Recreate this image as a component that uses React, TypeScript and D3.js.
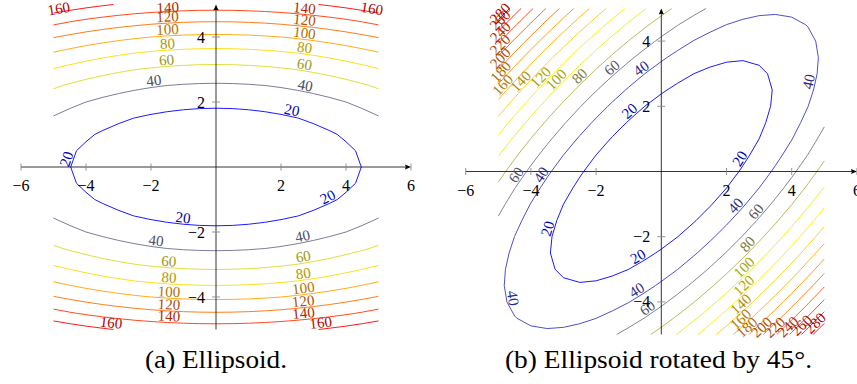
import React from "react";
import * as d3 from "d3";

// ---------- data ----------
const DOMAIN = [-5, 5];
const GRID_SAMPLES = 21;
const AXIS_WEIGHTS = [1, 6]; // f = w0*u^2 + w1*v^2
const ROTATION_A = 0;
const ROTATION_B = 45;
const LEVELS_A = [20, 40, 60, 80, 100, 120, 140, 160];
const LEVELS_B = [20, 40, 60, 80, 100, 120, 140, 160, 180, 200, 220, 240, 260, 280];
const X_TICKS = [-6, -4, -2, 2, 4, 6];
const Y_TICKS = [-4, -2, 2, 4];
const X_RANGE = [-6, 6];
const Y_RANGE = [-5, 5];
const CAPTION_A = "(a) Ellipsoid.";
const CAPTION_B = "(b) Ellipsoid rotated by 45°.";

// contour label anchors: [level, x, y]
const LABELS_A: number[][] = [
  [20, -4.59, 0.24], [20, 2.33, 1.72], [20, 3.46, -0.96], [20, -1.02, -1.61],
  [40, -1.91, 2.62], [40, 2.74, 2.47], [40, -1.85, -2.3], [40, 2.67, -2.16],
  [60, -1.52, 3.26], [60, 2.72, 3.14], [60, -1.45, -2.91], [60, 2.69, -2.79],
  [80, -1.49, 3.77], [80, 2.72, 3.63], [80, -1.45, -3.43], [80, 2.69, -3.3],
  [100, -1.49, 4.2], [100, 2.72, 4.11], [100, -1.45, -3.87], [100, 2.69, -3.73],
  [120, -1.49, 4.6], [120, 2.72, 4.5], [120, -1.45, -4.27], [120, 2.69, -4.17],
  [140, -1.48, 4.95], [140, 2.72, 4.88], [140, -1.45, -4.6], [140, 2.69, -4.5],
  [160, -4.83, 4.92], [160, 4.79, 4.93], [160, -3.23, -4.83], [160, 3.22, -4.81],
];
const LABELS_B: number[][] = [
  [20, -1.01, 1.89], [20, 2.44, 0.38], [20, -3.52, -1.74], [20, -0.71, -2.61],
  [40, -0.62, 3.17], [40, 4.56, 2.75], [40, -3.67, -0.11], [40, 2.31, -1.08], [40, -4.59, -3.89], [40, -0.76, -3.63],
  [60, -1.5, 3.17], [60, -4.44, -0.11], [60, 2.9, -1.23], [60, -0.45, -4.15],
  [80, -2.49, 2.91], [80, 2.67, -2.25],
  [100, -3.2, 2.8], [100, 2.52, -2.92],
  [120, -3.72, 2.91], [120, 2.47, -3.43],
  [140, -4.36, 2.81], [140, 2.41, -4.04],
  [160, -4.8, 2.6], [160, 2.36, -4.45],
  [180, -4.75, 2.9], [180, 2.6, -4.75],
  [200, -4.75, 3.3], [200, 3.05, -4.75],
  [220, -4.75, 3.7], [220, 3.45, -4.75],
  [240, -4.75, 4.1], [240, 3.87, -4.75],
  [260, -4.75, 4.45], [260, 4.3, -4.72],
  [280, -4.75, 4.8], [280, 4.72, -4.65],
];

// ---------- helpers ----------
const FONT = "'Liberation Serif', 'Times New Roman', serif";
const hot = d3
  .scaleLinear<string>()
  .domain([0, 1 / 3, 2 / 3, 1])
  .range(["#0000ff", "#ffff00", "#ff8000", "#ff0000"])
  .interpolate(d3.interpolateRgb);

const fmt = (v: number) => (v < 0 ? "\u2212" + Math.abs(v) : String(v));

type Line = { closed: boolean; pts: number[][] };

function contourLines(levels: number[], rotDeg: number) {
  const n = GRID_SAMPLES;
  const step = (DOMAIN[1] - DOMAIN[0]) / (n - 1);
  const th = (rotDeg * Math.PI) / 180;
  const c = Math.cos(th), s = Math.sin(th);
  const vals: number[] = new Array(n * n);
  for (let j = 0; j < n; j++)
    for (let i = 0; i < n; i++) {
      const x = DOMAIN[0] + i * step, y = DOMAIN[0] + j * step;
      const u = x * c + y * s, v = -x * s + y * c;
      vals[j * n + i] = AXIS_WEIGHTS[0] * u * u + AXIS_WEIGHTS[1] * v * v;
    }
  const polys = d3.contours().size([n, n]).thresholds(levels)(vals);
  const eps = 1e-9;
  const isBorder = (p: number[]) =>
    p[0] < 0.5 - eps || p[0] > n - 0.5 + eps || p[1] < 0.5 - eps || p[1] > n - 0.5 + eps;
  const toData = (p: number[]) => [DOMAIN[0] + (p[0] - 0.5) * step, DOMAIN[0] + (p[1] - 0.5) * step];
  return polys.map((poly) => {
    const lines: Line[] = [];
    poly.coordinates.forEach((polygon) =>
      polygon.forEach((ring) => {
        const pts = ring.slice();
        const last = pts[pts.length - 1];
        if (pts.length > 1 && pts[0][0] === last[0] && pts[0][1] === last[1]) pts.pop();
        const b = pts.findIndex(isBorder);
        if (b < 0) {
          lines.push({ closed: true, pts: pts.map(toData) });
          return;
        }
        const rot = pts.slice(b).concat(pts.slice(0, b));
        let cur: number[][] = [];
        for (const p of rot) {
          if (isBorder(p)) {
            if (cur.length > 1) lines.push({ closed: false, pts: cur });
            cur = [];
          } else cur.push(toData(p));
        }
        if (cur.length > 1) lines.push({ closed: false, pts: cur });
      })
    );
    return { value: poly.value, lines };
  });
}

function snap(lines: Line[], px: number, py: number) {
  let best = { d: Infinity, x: px, y: py, a: 0 };
  for (const ln of lines) {
    const p = ln.pts;
    const m = ln.closed ? p.length : p.length - 1;
    for (let k = 0; k < m; k++) {
      const A = p[k], B = p[(k + 1) % p.length];
      const dx = B[0] - A[0], dy = B[1] - A[1];
      const L2 = dx * dx + dy * dy;
      if (L2 === 0) continue;
      let t = ((px - A[0]) * dx + (py - A[1]) * dy) / L2;
      t = Math.max(0, Math.min(1, t));
      const qx = A[0] + t * dx, qy = A[1] + t * dy;
      const d = (qx - px) ** 2 + (qy - py) ** 2;
      if (d < best.d) {
        let a = (Math.atan2(dy, dx) * 180) / Math.PI;
        if (a > 90) a -= 180;
        if (a <= -90) a += 180;
        best = { d, x: qx, y: qy, a };
      }
    }
  }
  return best;
}

type PanelProps = {
  ox: number; oy: number; unit: number;
  levels: number[]; labels: number[][]; rot: number;
  caption: string; capX: number; capW: number;
};

function Panel({ ox, oy, unit, levels, labels, rot, caption, capX, capW }: PanelProps) {
  const xs = d3.scaleLinear().domain(X_RANGE).range([ox + X_RANGE[0] * unit, ox + X_RANGE[1] * unit]);
  const ys = d3.scaleLinear().domain(Y_RANGE).range([oy - Y_RANGE[0] * unit, oy - Y_RANGE[1] * unit]);
  const lo = d3.min(levels)!, hi = d3.max(levels)!;
  const color = (v: number) => hot((v - lo) / (hi - lo));
  const dark = (v: number) => {
    const c = d3.rgb(color(v));
    return d3.rgb(c.r * 0.7, c.g * 0.7, c.b * 0.7).formatHex();
  };
  const data = contourLines(levels, rot);
  const open = d3.line<number[]>().x((d) => xs(d[0])).y((d) => ys(d[1]));
  const closed = d3.line<number[]>().x((d) => xs(d[0])).y((d) => ys(d[1])).curve(d3.curveLinearClosed);

  const pixLines: Record<number, Line[]> = {};
  data.forEach((dd) => {
    pixLines[dd.value] = dd.lines.map((l) => ({ closed: l.closed, pts: l.pts.map((p) => [xs(p[0]), ys(p[1])]) }));
  });

  const x0 = xs(0), y0 = ys(0);
  const xEnd = xs(X_RANGE[1]), yTop = ys(Y_RANGE[1]);
  return (
    <g>
      {data.map((dd) =>
        dd.lines.map((l, i) => (
          <path key={dd.value + "-" + i} d={(l.closed ? closed : open)(l.pts) || ""} fill="none" stroke={color(dd.value)} strokeWidth={0.9} strokeLinejoin="round" />
        ))
      )}
      {/* axes */}
      <line x1={xs(X_RANGE[0])} x2={xEnd - 2} y1={y0} y2={y0} stroke="#000" strokeWidth={0.8} />
      <line x1={x0} x2={x0} y1={ys(Y_RANGE[0])} y2={yTop + 2} stroke="#000" strokeWidth={0.8} />
      <path d={`M${xEnd},${y0} L${xEnd - 6},${y0 - 2.6} Q${xEnd - 4.3},${y0} ${xEnd - 6},${y0 + 2.6} Z`} fill="#000" />
      <path d={`M${x0},${yTop} L${x0 - 2.6},${yTop + 6} Q${x0},${yTop + 4.3} ${x0 + 2.6},${yTop + 6} Z`} fill="#000" />
      {X_TICKS.map((t) => (
        <line key={"xt" + t} x1={xs(t)} x2={xs(t)} y1={y0 - 3.5} y2={y0 + 3.5} stroke="#888" strokeWidth={0.9} />
      ))}
      {Y_TICKS.map((t) => (
        <line key={"yt" + t} x1={x0 - 4} x2={x0 + 4} y1={ys(t)} y2={ys(t)} stroke="#888" strokeWidth={0.9} />
      ))}
      {/* contour labels */}
      {labels.map(([lv, lx, ly], i) => {
        const s = snap(pixLines[lv] || [], xs(lx), ys(ly));
        // keep the label's upper edge inside the picture
        const rad = (s.a * Math.PI) / 180;
        const halfW = 11, h = 11;
        const top = s.y - 1.5 - Math.abs(Math.sin(rad)) * halfW - Math.cos(rad) * h;
        const ty = top < 1 ? s.y + (1 - top) : s.y;
        return (
          <text key={"lab" + i} transform={`translate(${s.x.toFixed(2)},${ty.toFixed(2)}) rotate(${s.a.toFixed(1)})`} y={-1.5} textAnchor="middle" fontFamily={FONT} fontSize={15} fill={dark(lv)}>
            {lv}
          </text>
        );
      })}
      {X_TICKS.map((t) => (
        <text key={"xl" + t} x={xs(t)} y={y0 + 24} textAnchor="middle" fontFamily={FONT} fontSize={16} fill="#000">
          {fmt(t)}
        </text>
      ))}
      {Y_TICKS.map((t) => (
        <text key={"yl" + t} x={x0 - 11} y={ys(t) + 5.5} textAnchor="end" fontFamily={FONT} fontSize={16} fill="#000">
          {fmt(t)}
        </text>
      ))}
      <text x={capX} y={368} textAnchor="middle" fontFamily={FONT} fontSize={25} textLength={capW} lengthAdjust="spacingAndGlyphs" fill="#000">
        {caption}
      </text>
    </g>
  );
}

export default function App() {
  return (
    <svg width={857} height={384} style={{ position: "absolute", left: 0, top: 0, background: "#fff" }}>
      <rect width={857} height={384} fill="#fff" />
      <Panel ox={216} oy={167} unit={32.5} levels={LEVELS_A} labels={LABELS_A} rot={ROTATION_A} caption={CAPTION_A} capX={216} capW={142} />
      <Panel ox={661.3} oy={171.5} unit={32.6} levels={LEVELS_B} labels={LABELS_B} rot={ROTATION_B} caption={CAPTION_B} capX={658.5} capW={307} />
    </svg>
  );
}
